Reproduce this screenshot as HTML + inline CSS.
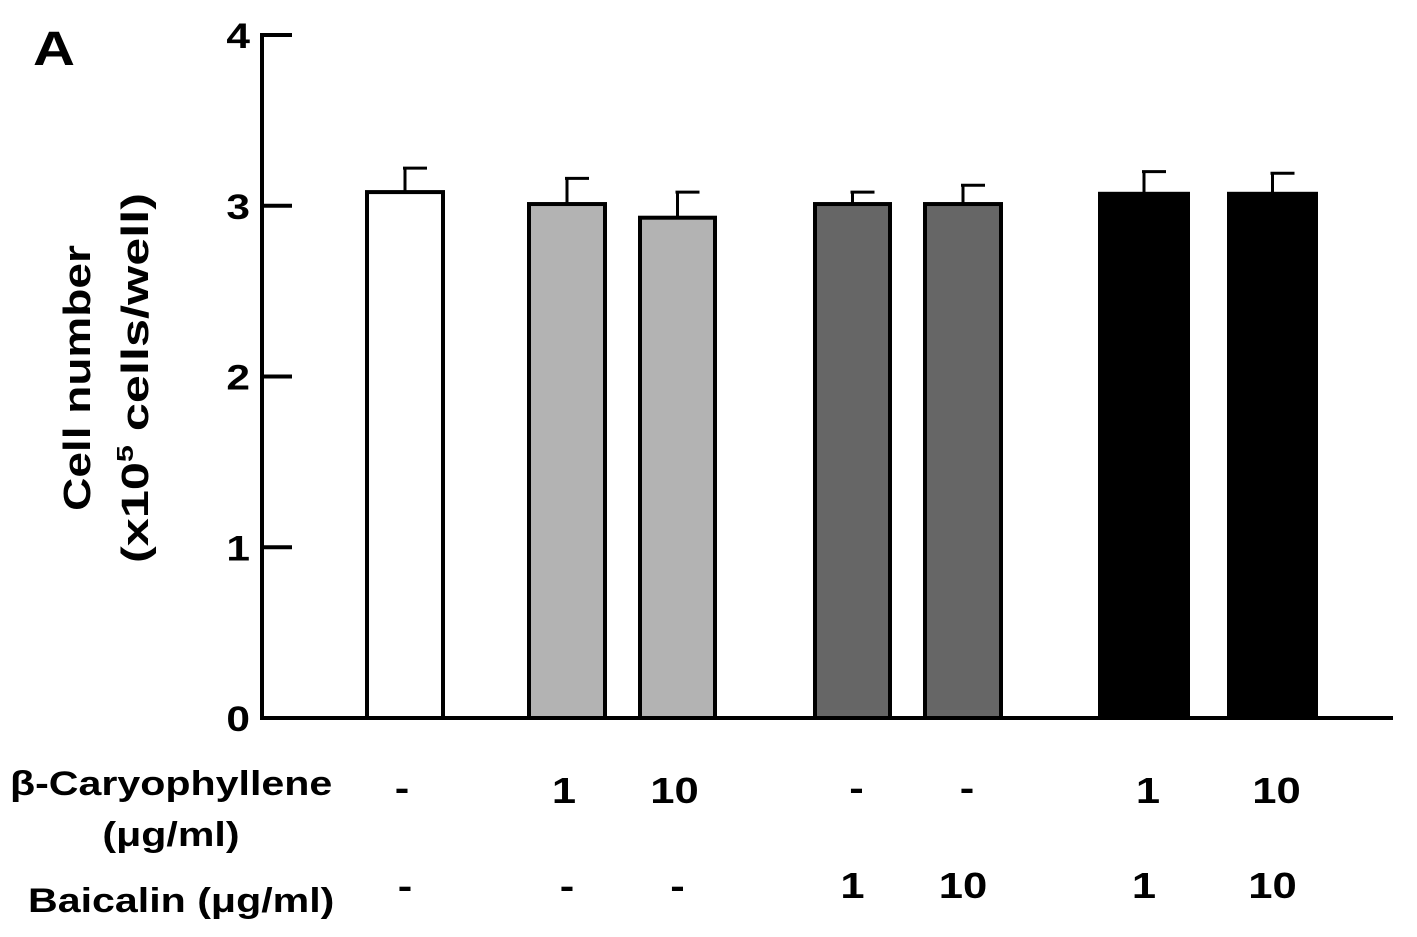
<!DOCTYPE html>
<html><head><meta charset="utf-8"><style>
html,body{margin:0;padding:0;background:#fff;}
svg{display:block;font-family:"Liberation Sans",Arial,sans-serif;font-weight:bold;}
</style></head><body>
<svg id="c" width="1417" height="937" viewBox="0 0 1417 937">
<text class="w" x="33" y="65" font-size="48">A</text>
<g id="axes"></g>
<g id="bars"></g>
<g transform="translate(70,378) rotate(-90)">
<text class="w" x="0" y="20" font-size="38" text-anchor="middle">Cell number</text>
<text x="0" y="78" font-size="38" text-anchor="middle" textLength="370" lengthAdjust="spacingAndGlyphs">(x10<tspan font-size="23" dy="-15">5</tspan><tspan dy="15"> cells/well)</tspan></text>
</g>
<text class="w" x="10" y="795" font-size="34">β-Caryophyllene</text>
<text class="w" x="171" y="846" font-size="34" text-anchor="middle">(μg/ml)</text>
<text class="w" x="28" y="912" font-size="34">Baicalin (μg/ml)</text>
<g id="rows" font-size="36" text-anchor="middle"></g>
</svg>
<script>
const categories=["control","car1","car10","bai1","bai10","comb1","comb10"];
const values=[3.08,3.01,2.93,3.01,3.01,3.07,3.07];
const errTops=[3.22,3.16,3.08,3.08,3.12,3.20,3.19];
const fills=["#ffffff","#b3b3b3","#b3b3b3","#666666","#666666","#000000","#000000"];
const yTicks=[0,1,2,3,4];
const carLabels=["-","1","10","-","-","1","10"];
const baiLabels=["-","-","-","1","10","1","10"];
const ns="http://www.w3.org/2000/svg";
const y0=718,y4=35;
function y(v){return y0-(y0-y4)*v/4;}
const barX=[367,529,640,815,925,1100,1229];
const barW=[76,76,75,75,76,88,87];
function mk(t,a,p){const e=document.createElementNS(ns,t);for(const k in a)e.setAttribute(k,a[k]);p.appendChild(e);return e;}
const ax=document.getElementById('axes');
let l=mk('line',{x1:262,y1:33,x2:262,y2:720,stroke:'#000','stroke-width':4},ax);

l=mk('line',{x1:260,y1:718,x2:1393,y2:718,stroke:'#000','stroke-width':4},ax);

yTicks.forEach(t=>{
 const tk=mk('line',{x1:262,x2:292,y1:y(t),y2:y(t),stroke:'#000','stroke-width':4},ax);
 
 const tx=mk('text',{x:250,y:y(t)+13,'font-size':35,'text-anchor':'end','class':'w'},ax);tx.textContent=t;
 
});
const bg=document.getElementById('bars');
categories.forEach((c,i)=>{
 const x=barX[i],w=barW[i],cx=x+w/2;
 const e=mk('line',{x1:cx,x2:cx,y1:y(errTops[i]),y2:y(values[i]),stroke:'#000','stroke-width':3},bg);
 
 const cap=mk('line',{x1:cx-2,x2:cx+22,y1:y(errTops[i]),y2:y(errTops[i]),stroke:'#000','stroke-width':3},bg);
 
 const r=mk('rect',{x:x,y:y(values[i]),width:w,height:y(0)-y(values[i]),fill:fills[i],stroke:'#000','stroke-width':4},bg);
 
});
const rows=document.getElementById('rows');
categories.forEach((c,i)=>{
 const cx=barX[i]+barW[i]/2;
 let t=mk('text',{x:cx-(i<3?3:-4),y:carLabels[i]=='-'?800:803,'class':'w'},rows);t.textContent=carLabels[i];
 
 t=mk('text',{x:cx,y:898,'class':'w'},rows);t.textContent=baiLabels[i];
 
});
document.querySelectorAll('text.w').forEach(t=>{
 const L=t.getComputedTextLength();
 t.setAttribute('textLength',(L*1.21).toFixed(1));
 t.setAttribute('lengthAdjust','spacingAndGlyphs');
});
</script>
</body></html>
